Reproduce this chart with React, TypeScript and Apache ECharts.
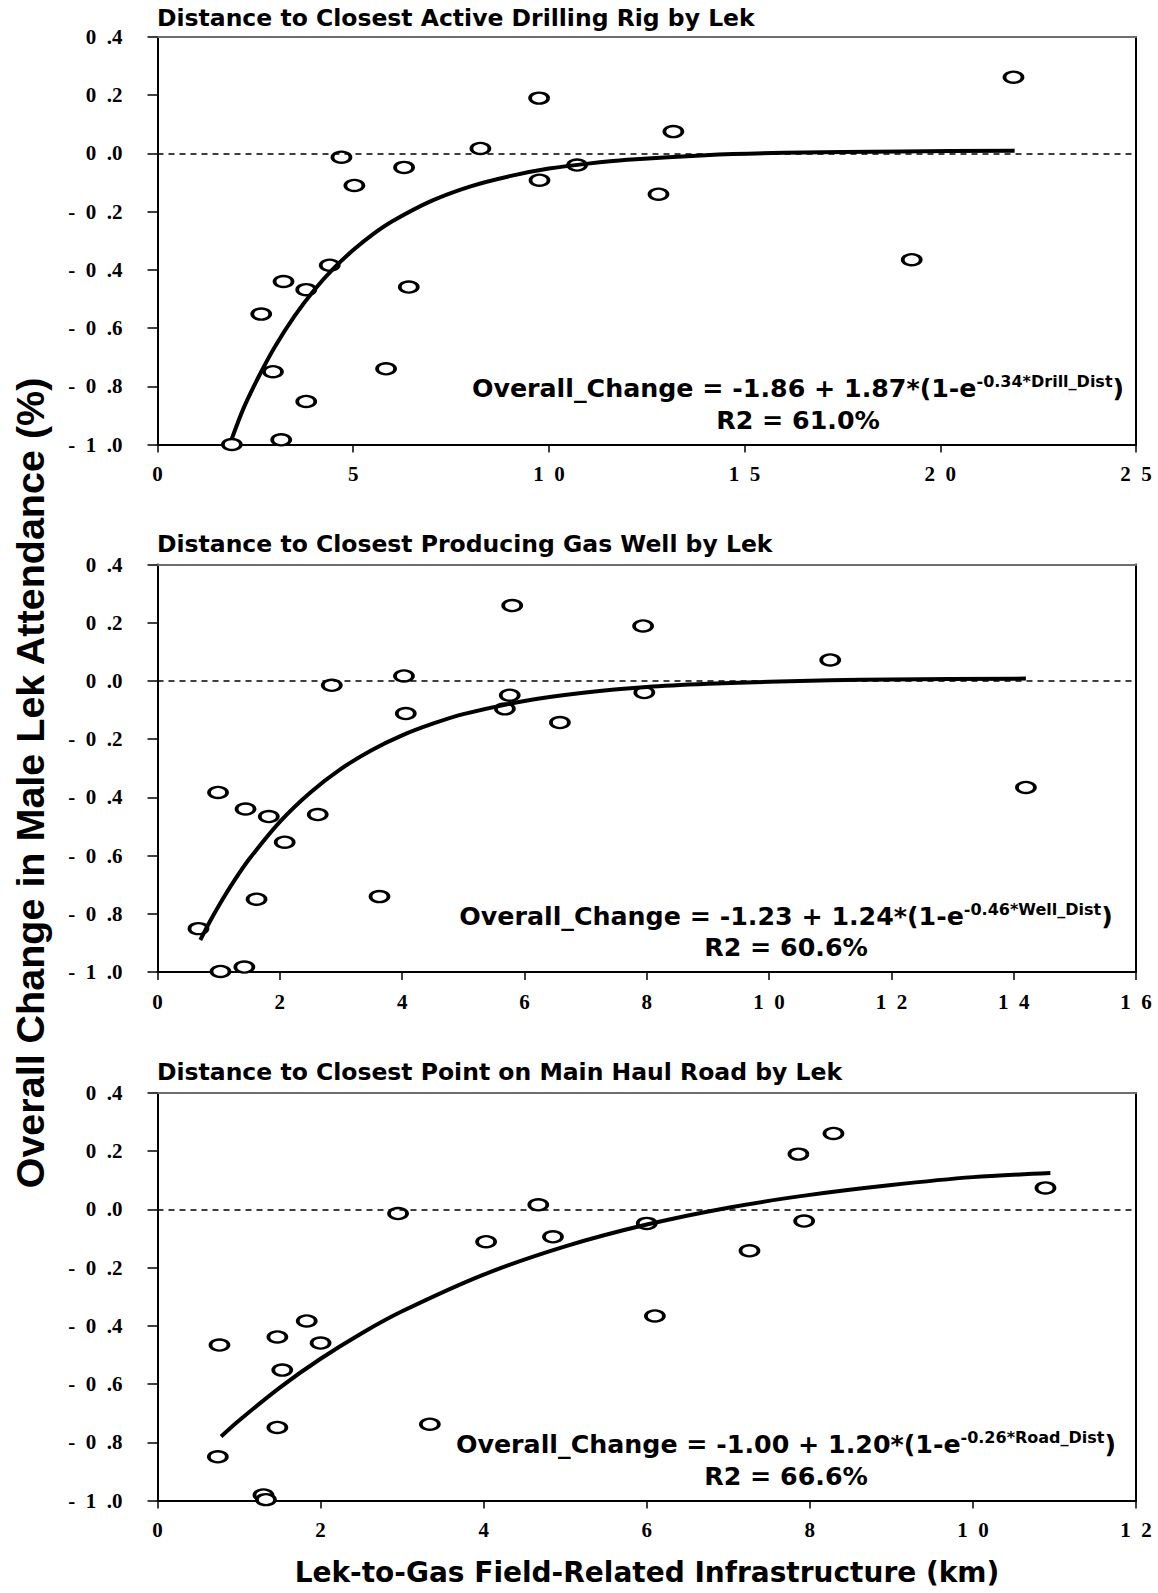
import React, { useEffect, useRef } from "react";
import * as echarts from "echarts";

// ---------- data ----------
const drillDist = [21.87, 9.75, 13.18, 8.25, 4.7, 6.3, 10.72, 5.03, 9.76, 12.8, 4.4, 3.22, 3.8, 6.42, 2.65, 5.84, 2.95, 3.8, 3.16, 1.9, 19.27];
const drillChange = [0.262, 0.19, 0.075, 0.017, -0.013, -0.048, -0.04, -0.11, -0.092, -0.14, -0.384, -0.44, -0.468, -0.459, -0.552, -0.74, -0.75, -0.852, -0.984, -1.0, -0.365];

const wellDist = [0.67, 1.03, 1.42, 0.99, 1.44, 1.82, 2.08, 1.62, 2.62, 3.63, 2.85, 4.03, 4.06, 5.8, 5.76, 5.68, 6.58, 7.94, 7.96, 11.0, 14.2];
const wellChange = [-0.851, -0.998, -0.983, -0.383, -0.44, -0.466, -0.554, -0.75, -0.459, -0.741, -0.015, 0.017, -0.112, 0.259, -0.049, -0.096, -0.143, 0.189, -0.04, 0.072, -0.366];

const roadDist = [0.76, 0.74, 1.3, 1.33, 1.47, 1.83, 2.0, 1.53, 1.47, 3.34, 2.95, 4.03, 4.67, 4.85, 6.0, 6.1, 7.26, 7.86, 7.93, 8.29, 10.89];
const roadChange = [-0.466, -0.85, -0.981, -0.997, -0.438, -0.383, -0.459, -0.552, -0.749, -0.738, -0.014, -0.111, 0.016, -0.094, -0.048, -0.366, -0.142, 0.19, -0.04, 0.261, 0.074];

// fitted curves
const drillFitDist = [1.9, 2.2, 2.6, 3.0, 3.5, 4.0, 4.5, 5.0, 5.5, 6.0, 7.0, 8.0, 9.0, 10.0, 11.0, 12.0, 14.0, 16.0, 19.0, 21.9];
const drillFitChange = [-0.98, -0.875, -0.763, -0.664, -0.559, -0.47, -0.395, -0.332, -0.278, -0.233, -0.163, -0.113, -0.078, -0.052, -0.035, -0.022, -0.006, 0.002, 0.007, 0.009];

const wellFitDist = [0.7, 0.85, 1.0, 1.25, 1.5, 2.0, 2.5, 3.0, 3.5, 4.0, 4.5, 5.0, 6.0, 7.0, 8.0, 9.0, 10.0, 11.0, 12.0, 14.2];
const wellFitChange = [-0.89, -0.829, -0.773, -0.688, -0.612, -0.484, -0.383, -0.302, -0.238, -0.187, -0.147, -0.114, -0.069, -0.04, -0.021, -0.01, -0.003, 0.002, 0.005, 0.008];

const roadFitDist = [0.78, 1.0, 1.5, 2.0, 2.5, 3.0, 4.0, 5.0, 6.0, 7.0, 8.0, 9.0, 10.0, 10.95];
const roadFitChange = [-0.78, -0.725, -0.612, -0.513, -0.426, -0.35, -0.224, -0.127, -0.052, 0.006, 0.05, 0.084, 0.111, 0.125];

const panelTitles = [
  "Distance to Closest Active Drilling Rig by Lek",
  "Distance to Closest Producing Gas Well by Lek",
  "Distance to Closest Point on Main Haul Road by Lek",
];
const eqMain = ["Overall_Change = -1.86 + 1.87*(1-e", "Overall_Change = -1.23 + 1.24*(1-e", "Overall_Change = -1.00 + 1.20*(1-e"];
const eqSup = ["-0.34*Drill_Dist", "-0.46*Well_Dist", "-0.26*Road_Dist"];
const r2Labels = ["R2 = 61.0%", "R2 = 60.6%", "R2 = 66.6%"];

const xMaxes = [25, 16, 12];
const xIntervals = [5, 2, 2];
const yMin = -1.0;
const yMax = 0.4;
const yInterval = 0.2;

const yTitle = "Overall Change in Male Lek Attendance (%)";
const xTitle = "Lek-to-Gas Field-Related Infrastructure (km)";

// ---------- layout ----------
const GRID_LEFT = 157.5;
const GRID_WIDTH = 978.5;
const gridTops = [37, 564.5, 1093];
const GRID_HEIGHT = 407.5;
const titleYs = [18, 544, 1072];
const eqCenters = [
  { x: 798, y: 388, r2y: 420 },
  { x: 786, y: 916, r2y: 947 },
  { x: 786, y: 1444, r2y: 1476 },
];

const EN = "\u2002";
const fmtY = (v: number) => {
  const s = Math.abs(v) < 1e-9 ? "0.0" : v.toFixed(1);
  const neg = s.startsWith("-");
  const body = neg ? s.slice(1) : s;
  const [a, b] = body.split(".");
  return (neg ? "-" + EN : "") + a.split("").join(EN) + EN + "." + b;
};
const fmtX = (v: number) => String(Math.round(v)).split("").join(EN);

const tickFont = {
  fontFamily: '"Liberation Serif", "Times New Roman", serif',
  fontWeight: "bold" as const,
  fontSize: 21,
  color: "#000",
};

const zip = (a: number[], b: number[]) => a.map((v, i) => [v, b[i]]);

function buildOption() {
  const scatterData = [zip(drillDist, drillChange), zip(wellDist, wellChange), zip(roadDist, roadChange)];
  const fitData = [zip(drillFitDist, drillFitChange), zip(wellFitDist, wellFitChange), zip(roadFitDist, roadFitChange)];

  const grid: any[] = [];
  const xAxis: any[] = [];
  const yAxis: any[] = [];
  const series: any[] = [];
  const graphic: any[] = [];

  for (let i = 0; i < 3; i++) {
    grid.push({ left: GRID_LEFT, width: GRID_WIDTH, top: gridTops[i], height: GRID_HEIGHT, containLabel: false });
    xAxis.push({
      type: "value",
      gridIndex: i,
      position: "bottom",
      min: 0,
      max: xMaxes[i],
      interval: xIntervals[i],
      axisLine: { show: true, onZero: false, lineStyle: { color: "#000", width: 2 } },
      axisTick: { show: true, length: 8, lineStyle: { color: "#000", width: 1.5 } },
      splitLine: { show: false },
      axisLabel: { ...tickFont, margin: 19, formatter: fmtX, showMinLabel: true, showMaxLabel: true },
    });
    xAxis.push({
      type: "value",
      gridIndex: i,
      position: "top",
      min: 0,
      max: xMaxes[i],
      axisLine: { show: true, onZero: false, lineStyle: { color: "#6e6e6e", width: 2 } },
      axisTick: { show: false },
      axisLabel: { show: false },
      splitLine: { show: false },
    });
    yAxis.push({
      type: "value",
      gridIndex: i,
      position: "left",
      min: yMin,
      max: yMax,
      interval: yInterval,
      axisLine: { show: true, onZero: false, lineStyle: { color: "#000", width: 2 } },
      axisTick: { show: true, length: 10, lineStyle: { color: "#000", width: 1.5 } },
      splitLine: { show: false },
      axisLabel: { ...tickFont, margin: 35, formatter: fmtY },
    });
    yAxis.push({
      type: "value",
      gridIndex: i,
      position: "right",
      min: yMin,
      max: yMax,
      axisLine: { show: true, onZero: false, lineStyle: { color: "#000", width: 2 } },
      axisTick: { show: false },
      axisLabel: { show: false },
      splitLine: { show: false },
    });

    series.push({
      type: "scatter",
      xAxisIndex: i * 2,
      yAxisIndex: i * 2,
      data: scatterData[i],
      symbol: "circle",
      symbolSize: [18, 11],
      itemStyle: { color: "#fff", borderColor: "#000", borderWidth: 3, opacity: 1 },
      z: 2,
      markLine: {
        silent: true,
        symbol: ["none", "none"],
        label: { show: false },
        lineStyle: { type: [6, 5], color: "#000", width: 1.5 },
        data: [{ yAxis: 0 }],
      },
    });
    series.push({
      type: "line",
      xAxisIndex: i * 2,
      yAxisIndex: i * 2,
      data: fitData[i],
      showSymbol: false,
      symbol: "none",
      smooth: 0.3,
      lineStyle: { color: "#000", width: 4 },
      z: 3,
    });

    graphic.push({
      type: "text",
      x: 157,
      y: titleYs[i],
      style: {
        text: panelTitles[i],
        fontFamily: '"DejaVu Sans", sans-serif',
        fontWeight: "bold",
        fontSize: 23.5,
        fill: "#000",
        align: "left",
        textAlign: "left",
        verticalAlign: "middle",
        textVerticalAlign: "middle",
      },
    });
    graphic.push({
      type: "text",
      x: eqCenters[i].x,
      y: eqCenters[i].y,
      z: 10,
      style: {
        text: "{m|" + eqMain[i] + "}{s|" + eqSup[i] + "}{m|)}",
        align: "center",
        textAlign: "center",
        verticalAlign: "middle",
        textVerticalAlign: "middle",
        fill: "#000",
        rich: {
          m: { fontFamily: '"DejaVu Sans", sans-serif', fontWeight: "bold", fontSize: 25.3, fill: "#000", color: "#000" },
          s: { fontFamily: '"DejaVu Sans", sans-serif', fontWeight: "bold", fontSize: 16, fill: "#000", color: "#000", padding: [0, 0, 14, 0] },
        },
      },
    });
    graphic.push({
      type: "text",
      x: eqCenters[i].x,
      y: eqCenters[i].r2y,
      z: 10,
      style: {
        text: r2Labels[i],
        fontFamily: '"DejaVu Sans", sans-serif',
        fontWeight: "bold",
        fontSize: 25.3,
        fill: "#000",
        align: "center",
        textAlign: "center",
        verticalAlign: "middle",
        textVerticalAlign: "middle",
      },
    });
  }

  graphic.push({
    type: "text",
    x: 30,
    y: 783,
    rotation: Math.PI / 2,
    style: {
      text: yTitle,
      fontFamily: '"Liberation Sans", Arial, sans-serif',
      fontWeight: "bold",
      fontSize: 39.5,
      fill: "#000",
      align: "center",
      textAlign: "center",
      verticalAlign: "middle",
      textVerticalAlign: "middle",
    },
  });
  graphic.push({
    type: "text",
    x: 647,
    y: 1572,
    style: {
      text: xTitle,
      fontFamily: '"DejaVu Sans", sans-serif',
      fontWeight: "bold",
      fontSize: 28,
      fill: "#000",
      align: "center",
      textAlign: "center",
      verticalAlign: "middle",
      textVerticalAlign: "middle",
    },
  });

  return {
    animation: false,
    backgroundColor: "#fff",
    grid,
    xAxis,
    yAxis,
    series,
    graphic,
  };
}

export default function App() {
  const ref = useRef<HTMLDivElement>(null);
  useEffect(() => {
    document.body.style.margin = "0";
    const chart = echarts.init(ref.current!, undefined, { renderer: "svg" });
    chart.setOption(buildOption() as any);
    return () => chart.dispose();
  }, []);
  return <div ref={ref} style={{ width: 1158, height: 1593 }} />;
}
